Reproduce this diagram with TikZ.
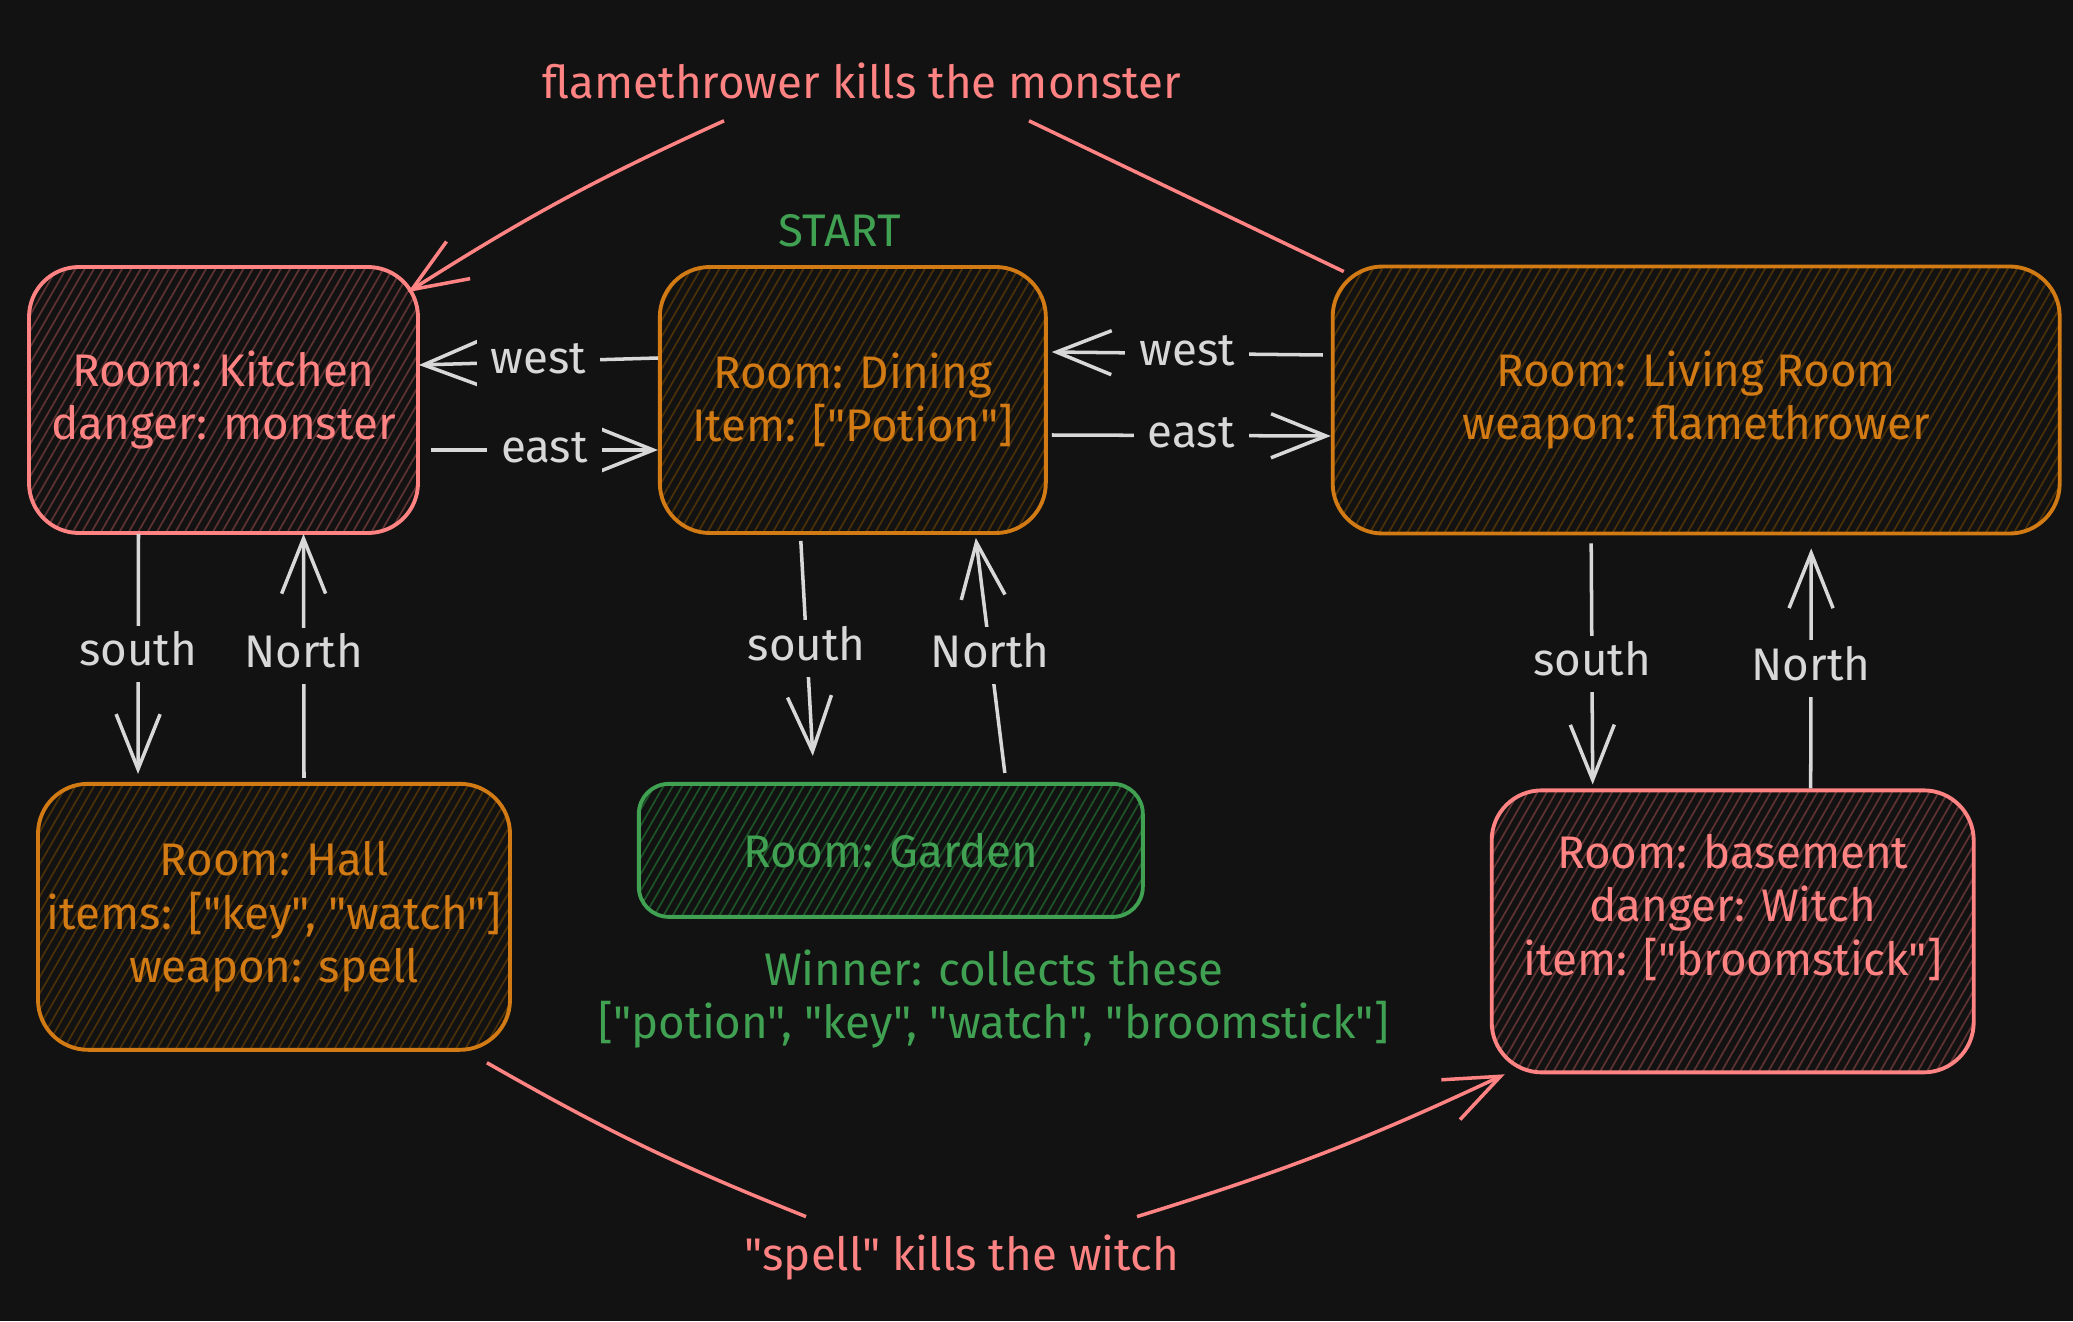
\documentclass[tikz,border=0pt]{standalone}
\usepackage{fontspec}
\setmainfont{Fira Sans}[Ligatures=TeXOff]
\usetikzlibrary{positioning,arrows.meta,patterns.meta}
\definecolor{bg}{HTML}{121212}
\definecolor{pinkc}{HTML}{FF8383}
\definecolor{orangec}{HTML}{D27A14}
\definecolor{greenc}{HTML}{40A152}
\definecolor{greyc}{HTML}{D8D8D8}
\definecolor{pinkh}{HTML}{5E3232}
\definecolor{orangeh}{HTML}{4A3008}
\definecolor{greenh}{HTML}{1D5427}

\begin{document}
\begin{tikzpicture}[
  every node/.style={font=\fontsize{13}{15.2}\selectfont},
  room/.style={draw, line width=1.1pt, rounded corners=5mm, align=center, inner sep=2pt,
    preaction={fill=bg}, pattern={Lines[angle=60, distance=2.3pt, line width=0.5pt]}},
  kroom/.style={room, draw=pinkc, text=pinkc, pattern color=pinkh},
  oroom/.style={room, draw=orangec, text=orangec, pattern color=orangeh},
  groom/.style={room, draw=greenc, text=greenc, pattern color=greenh},
  note/.style={align=center, inner sep=2pt},
  link/.style={draw=greyc, line width=1pt, -{Straight Barb[length=5.5mm, width=4.4mm, line width=1pt]}},
  lbl/.style={fill=bg, text=greyc, inner xsep=4pt, inner ysep=3pt, text height=1.6ex, text depth=.3ex},
  hit/.style={draw=pinkc, line width=1pt, -{Straight Barb[length=5.5mm, width=4.4mm, line width=1pt]}},
  hitline/.style={draw=pinkc, line width=1pt},
]
  \fill[bg] (0,0) rectangle (20.73,13.21);

  \node[kroom, minimum width=38.9mm, minimum height=26.6mm] (kitchen) at (2.235,9.21) {Room: Kitchen\\danger: monster};
  \node[oroom, minimum width=38.6mm, minimum height=26.6mm, right=23.9mm of kitchen] (dining) {Room: Dining\\Item: ["Potion"]};
  \node[oroom, minimum width=72.7mm, minimum height=26.7mm, right=28.3mm of dining] (living) {Room: Living Room\\weapon: flamethrower};

  \node[oroom, minimum width=47.2mm, minimum height=26.6mm, below=24.8mm of kitchen, xshift=5.05mm] (hall) {Room: Hall\\items: ["key", "watch"]\\weapon: spell};
  \node[groom, minimum width=50.4mm, minimum height=13.3mm, rounded corners=3mm, below=24.7mm of dining, xshift=3.8mm] (garden) {Room: Garden};
  \node[kroom, minimum width=48.2mm, minimum height=28.2mm, below=25.3mm of living, xshift=3.65mm] (basement) {Room: basement\\danger: Witch\\item: ["broomstick"]\\ \mbox{}};

  \node[note, text=greenc, above=1mm of dining, xshift=-1.3mm] (start) {START};
  \node[note, text=greenc, below=2.3mm of garden, xshift=10.3mm] (winner) {Winner: collects these\\{[}"potion", "key", "watch", "broomstick"]};
  \node[note, text=pinkc] (title) at (8.62,12.40) {flamethrower kills the monster};
  \node[note, text=pinkc] (spell) at (9.62,0.63) {"spell" kills the witch};

  \draw[link] ([yshift=4.2mm]dining.west) -- node[lbl] {west} ([yshift=3.5mm]kitchen.east);
  \draw[link] ([xshift=1.2mm, yshift=-5mm]kitchen.east) -- node[lbl] {east} ([yshift=-5mm]dining.west);
  \draw[link] ([xshift=-0.8mm, yshift=4.5mm]living.west) -- node[lbl] {west} ([xshift=0.4mm, yshift=4.8mm]dining.east);
  \draw[link] ([xshift=0.4mm, yshift=-3.5mm]dining.east) -- node[lbl] {east} ([yshift=-3.6mm]living.west);

  \draw[link] ([xshift=-8.5mm]kitchen.south) -- node[lbl] {south} ([xshift=-13.6mm, yshift=0.8mm]hall.north);
  \draw[link] ([xshift=3mm, yshift=0.4mm]hall.north) -- node[lbl] {North} ([xshift=8mm]kitchen.south);
  \draw[link] ([xshift=-5.2mm, yshift=-0.6mm]dining.south) -- node[lbl] {south} ([xshift=-7.8mm, yshift=2.6mm]garden.north);
  \draw[link] ([xshift=11.4mm, yshift=0.9mm]garden.north) -- node[lbl] {North} ([xshift=12.3mm, yshift=-0.3mm]dining.south);
  \draw[link] ([xshift=-10.5mm, yshift=-0.8mm]living.south) -- node[lbl] {south} ([xshift=-14mm, yshift=0.4mm]basement.north);
  \draw[link] ([xshift=7.8mm]basement.north) -- node[lbl] {North} ([xshift=11.5mm, yshift=-1.3mm]living.south);

  \draw[hit] ([xshift=-13.8mm, yshift=-1.4mm]title.south) to[bend right=4] ([shift={(-1.1mm,-2.6mm)}]kitchen.north east);
  \draw[hitline] ([xshift=16.7mm, yshift=-1.4mm]title.south) -- ([shift={(1.3mm,-0.7mm)}]living.north west);
  \draw[hitline] ([shift={(-2.5mm,-1.1mm)}]hall.south east) to[bend right=4] ([xshift=-15.6mm, yshift=1.1mm]spell.north);
  \draw[hit] ([xshift=17.5mm, yshift=1.1mm]spell.north) to[bend right=4] ([xshift=1.5mm]basement.south west);
\end{tikzpicture}
\end{document}
